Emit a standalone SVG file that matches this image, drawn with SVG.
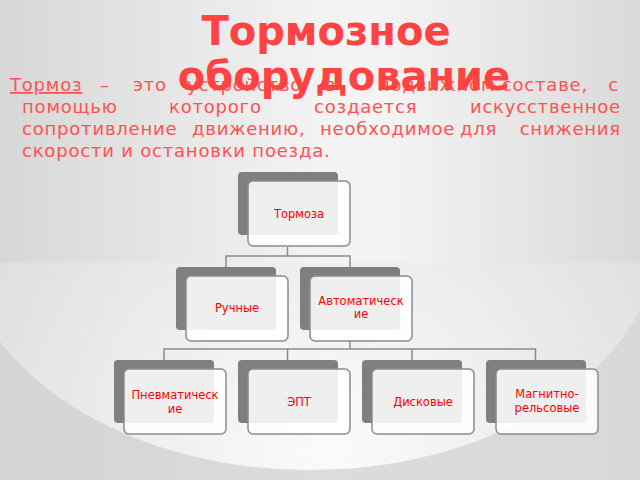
<svg xmlns="http://www.w3.org/2000/svg" width="640" height="480" viewBox="0 0 640 480">
<defs>
<linearGradient id="topBand" x1="0" y1="0" x2="1" y2="0">
<stop offset="0" stop-color="#d7d7d7"/>
<stop offset="0.5" stop-color="#f3f3f3"/>
<stop offset="0.6" stop-color="#f4f4f4"/>
<stop offset="1" stop-color="#d9d9d9"/>
</linearGradient>
<linearGradient id="lowBand" x1="0" y1="0" x2="1" y2="0">
<stop offset="0" stop-color="#d4d4d4"/>
<stop offset="0.5" stop-color="#dcdcdc"/>
<stop offset="1" stop-color="#d8d8d8"/>
</linearGradient>
<radialGradient id="glow" gradientUnits="userSpaceOnUse" cx="330" cy="450" r="380">
<stop offset="0" stop-color="#fbfbfb"/>
<stop offset="0.5" stop-color="#eeeeee"/>
<stop offset="1" stop-color="#dfdfdf"/>
</radialGradient>
<clipPath id="lowClip"><rect x="0" y="263" width="640" height="217"/></clipPath>
<style>
.dk{fill:#7f7f7f}
.wh{fill:#ffffff;fill-opacity:0.88;stroke:#8c8c8c;stroke-width:1.5}
.conn{fill:none;stroke:#8c8c8c;stroke-width:1.5}
.nt{font-family:"DejaVu Sans",sans-serif;font-size:11.5px;fill:#ff0000;text-anchor:middle}
.p{font-family:"DejaVu Sans",sans-serif;font-size:18px;fill:#ff5252;letter-spacing:0.8px}
.e{text-anchor:end}
.title{font-family:"DejaVu Sans",sans-serif;font-weight:bold;font-size:40px;fill:#ff4343;text-anchor:middle}
</style>
</defs>
<g id="background">
<rect x="0" y="0" width="640" height="480" fill="url(#topBand)"/>
<rect x="0" y="263" width="640" height="217" fill="url(#lowBand)"/>
<ellipse cx="310" cy="230" rx="350" ry="240" fill="url(#glow)" clip-path="url(#lowClip)"/>
</g>
<g id="paragraph">
<text class="p" x="10" y="91" text-decoration="underline">Тормоз</text>
<text class="p" x="100" y="91">–</text>
<text class="p" x="133" y="91">это</text>
<text class="p" x="187" y="91">устройство</text>
<text class="p" x="325" y="91">в</text>
<text class="p" x="378" y="91">подвижном</text>
<text class="p e" x="588" y="91">составе,</text>
<text class="p e" x="619" y="91">с</text>
<text class="p" x="22" y="113">помощью</text>
<text class="p" x="169" y="113">которого</text>
<text class="p" x="314" y="113">создается</text>
<text class="p e" x="621" y="113">искусственное</text>
<text class="p" x="22" y="135">сопротивление</text>
<text class="p" x="192" y="135">движению,</text>
<text class="p" x="320" y="135">необходимое</text>
<text class="p" x="460" y="135">для</text>
<text class="p e" x="621" y="135">снижения</text>
<text class="p" x="22" y="157">скорости и остановки поезда.</text>
</g>
<g id="title">
<text class="title" x="326" y="45">Тормозное</text>
<text class="title" x="344" y="90">оборудование</text>
</g>
<g id="connectors">
<path class="conn" d="M287.5,247 V256 H226 V267 M287.5,256 H350 V267"/>
<path class="conn" d="M350,341 V349 M164,360 V349 H535.5 V360 M287.5,349 V360 M412,349 V360"/>
</g>
<g id="node-tormoza">
<rect class="dk" x="238" y="172" width="100" height="63" rx="4"/>
<rect class="wh" x="248" y="181" width="102" height="65" rx="5"/>
<text class="nt" x="299" y="218">Тормоза</text>
</g>
<g id="node-ruchnye">
<rect class="dk" x="176" y="267" width="100" height="63" rx="4"/>
<rect class="wh" x="186" y="276" width="102" height="65" rx="5"/>
<text class="nt" x="237" y="312">Ручные</text>
</g>
<g id="node-avtomaticheskie">
<rect class="dk" x="300" y="267" width="100" height="63" rx="4"/>
<rect class="wh" x="310" y="276" width="102" height="65" rx="5"/>
<text class="nt" x="361" y="305">Автоматическ</text>
<text class="nt" x="361" y="318">ие</text>
</g>
<g id="node-pnevmaticheskie">
<rect class="dk" x="114" y="360" width="100" height="63" rx="4"/>
<rect class="wh" x="124" y="369" width="102" height="65" rx="5"/>
<text class="nt" x="175" y="399">Пневматическ</text>
<text class="nt" x="175" y="413">ие</text>
</g>
<g id="node-ept">
<rect class="dk" x="238" y="360" width="100" height="63" rx="4"/>
<rect class="wh" x="248" y="369" width="102" height="65" rx="5"/>
<text class="nt" x="299" y="406">ЭПТ</text>
</g>
<g id="node-diskovye">
<rect class="dk" x="362" y="360" width="100" height="63" rx="4"/>
<rect class="wh" x="372" y="369" width="102" height="65" rx="5"/>
<text class="nt" x="423" y="406">Дисковые</text>
</g>
<g id="node-magnitno">
<rect class="dk" x="486" y="360" width="100" height="63" rx="4"/>
<rect class="wh" x="496" y="369" width="102" height="65" rx="5"/>
<text class="nt" x="547" y="398">Магнитно-</text>
<text class="nt" x="547" y="412">рельсовые</text>
</g>
</svg>
